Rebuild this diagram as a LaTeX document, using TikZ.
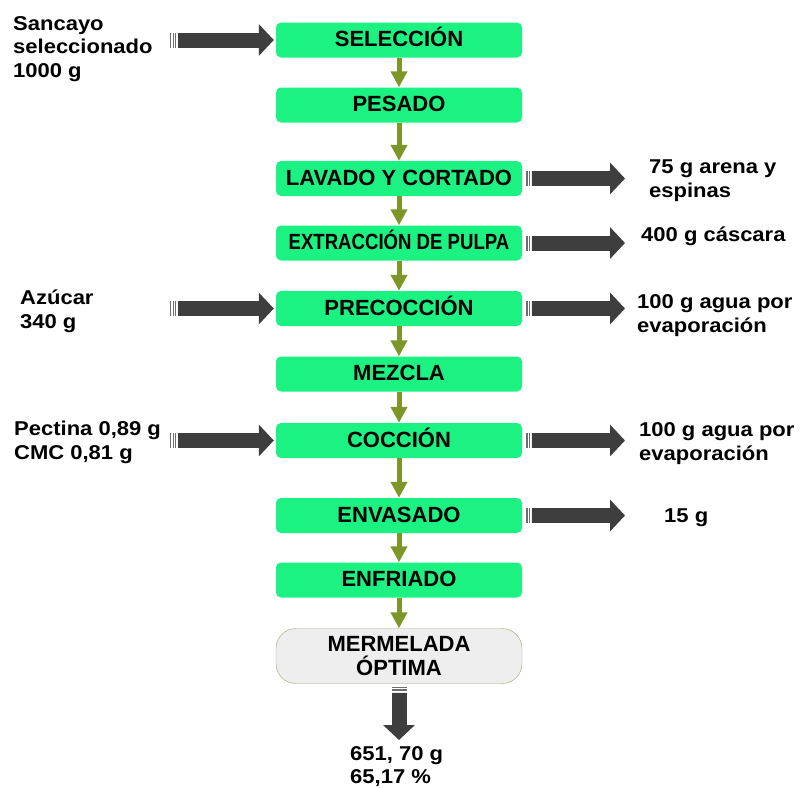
\documentclass[tikz,border=0pt]{standalone}
\usepackage{fontspec}
\usepackage{graphicx}
\setmainfont{Liberation Sans}[FakeStretch=1.1]
\newfontfamily\cajafont{Liberation Sans}
\usetikzlibrary{arrows.meta}
\definecolor{verdecaja}{RGB}{28,242,130}
\definecolor{olivo}{RGB}{125,150,40}
\definecolor{oscuro}{RGB}{62,62,62}
\definecolor{rayas}{RGB}{110,110,110}
\definecolor{bordefin}{RGB}{150,170,110}
\definecolor{grisfin}{RGB}{238,238,238}

\begin{document}
\begin{tikzpicture}[x=1pt,y=-1pt,
	etapa/.style={shape=rectangle,rounded corners=5pt,fill=verdecaja,minimum width=246pt,minimum height=35pt,inner sep=0pt,text height=13.5pt,text depth=0pt,font=\cajafont\bfseries\fontsize{22}{24}\selectfont},
	producto/.style={shape=rectangle,rounded corners=20pt,fill=grisfin,draw=bordefin,minimum width=246pt,minimum height=55pt,inner sep=0pt,align=center,font=\cajafont\bfseries\fontsize{22}{24}\selectfont},
	dato/.style={anchor=base west,align=left,inner sep=0pt,font=\bfseries\fontsize{20}{23.5}\selectfont},
	paso/.style={draw=olivo,line width=5pt,-{Triangle[length=16pt,width=16pt]}},
	bloque/.style={draw=oscuro,line width=15pt,-{Triangle[length=15pt,width=31pt]},shorten >=2pt},
	cola/.style={draw=rayas,line width=15pt,dash pattern=on 1.3pt off 1.2pt}]

	\useasboundingbox (0,0) rectangle (800,787);

	\node[etapa] (sel) at (399, 40)     {SELECCIÓN};
	\node[etapa] (pes) at (399, 105)    {PESADO};
	\node[etapa] (lav) at (399, 178.5)  {LAVADO Y CORTADO};
	\node[etapa] (ext) at (399, 243)    {\scalebox{0.845}[1]{EXTRACCIÓN DE PULPA}};
	\node[etapa] (pre) at (399, 308.5)  {PRECOCCIÓN};
	\node[etapa] (mez) at (399, 374)    {MEZCLA};
	\node[etapa] (coc) at (399, 440.5)  {COCCIÓN};
	\node[etapa] (env) at (399, 515.5)  {ENVASADO};
	\node[etapa] (enf) at (399, 580)    {ENFRIADO};
	\node[producto] (mer) at (399, 656) {MERMELADA\\ÓPTIMA};

	\node[dato] (san) at (13, 77)     {Sancayo\\seleccionado\\1000 g};
	\node[dato] (azu) at (20, 328)    {Azúcar\\340 g};
	\node[dato] (pec) at (14, 459)    {Pectina 0,89 g\\CMC 0,81 g};
	\node[dato] (are) at (649, 197)   {75 g arena y\\espinas};
	\node[dato] (cas) at (641, 241)   {400 g cáscara};
	\node[dato] (ag1) at (637, 332)   {100 g agua por\\evaporación};
	\node[dato] (ag2) at (639, 460)   {100 g agua por\\evaporación};
	\node[dato] (qui) at (664, 522)   {15 g};
	\node[dato] (res) at (350, 783.5) {651, 70 g\\65,17 \%};

	\coordinate (a1) at (170, 40);
	\coordinate (a2) at (170, 308.5);
	\coordinate (a3) at (170, 440.5);
	\coordinate (f1) at (627, 178.5);
	\coordinate (f2) at (627, 243);
	\coordinate (f3) at (627, 308.5);
	\coordinate (f4) at (627, 440.5);
	\coordinate (f5) at (627, 515.5);
	\coordinate (fin) at (399, 742);

	\draw[paso] (sel) -- (pes);
	\draw[paso] (pes) -- (lav);
	\draw[paso] (lav) -- (ext);
	\draw[paso] (ext) -- (pre);
	\draw[paso] (pre) -- (mez);
	\draw[paso] (mez) -- (coc);
	\draw[paso] (coc) -- (env);
	\draw[paso] (env) -- (enf);
	\draw[paso] (enf) -- (mer);

	\draw[cola] (a1) -- ++(7,0);
	\draw[bloque] ([xshift=8pt]a1) -- (sel);
	\draw[cola] (a2) -- ++(7,0);
	\draw[bloque] ([xshift=8pt]a2) -- (pre);
	\draw[cola] (a3) -- ++(7,0);
	\draw[bloque] ([xshift=8pt]a3) -- (coc);

	\draw[cola] ([xshift=4pt]lav.east) -- ++(5,0);
	\draw[bloque] ([xshift=10pt]lav.east) -- (f1);
	\draw[cola] ([xshift=4pt]ext.east) -- ++(5,0);
	\draw[bloque] ([xshift=10pt]ext.east) -- (f2);
	\draw[cola] ([xshift=4pt]pre.east) -- ++(5,0);
	\draw[bloque] ([xshift=10pt]pre.east) -- (f3);
	\draw[cola] ([xshift=4pt]coc.east) -- ++(5,0);
	\draw[bloque] ([xshift=10pt]coc.east) -- (f4);
	\draw[cola] ([xshift=4pt]env.east) -- ++(5,0);
	\draw[bloque] ([xshift=10pt]env.east) -- (f5);

	\draw[cola] ([yshift=-3pt]mer.south) -- ++(0,5);
	\draw[bloque] ([yshift=-9pt]mer.south) -- (fin);

\end{tikzpicture}
\end{document}
